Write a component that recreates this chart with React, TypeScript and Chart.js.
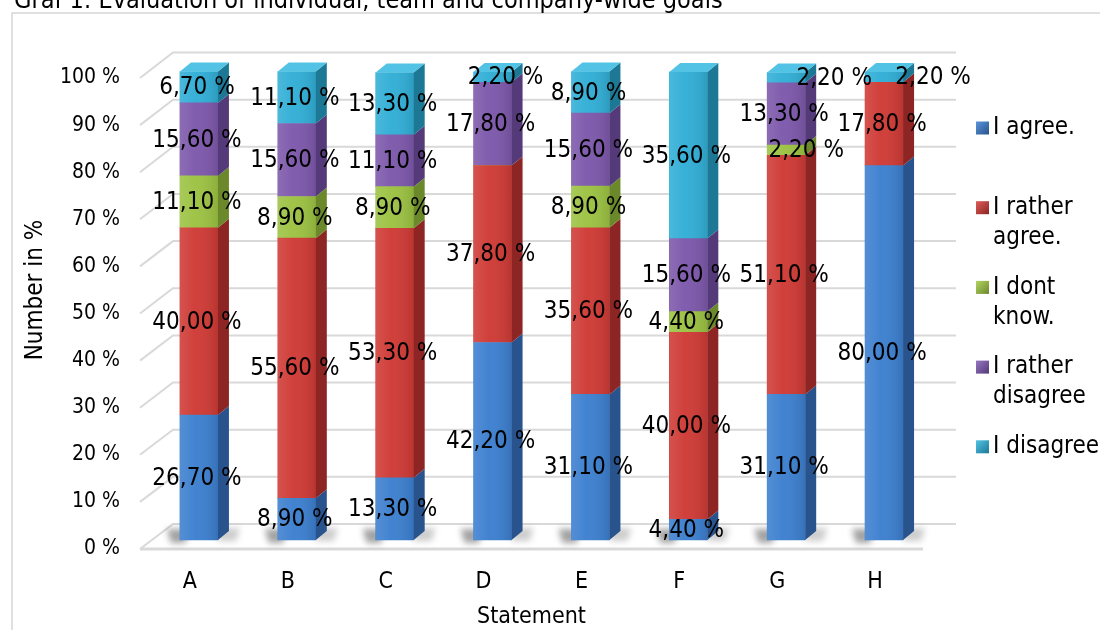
import React, { useEffect, useRef } from "react";
import { Chart, registerables } from "chart.js";

Chart.register(...registerables);

// ---- data ----
const categories = ["A", "B", "C", "D", "E", "F", "G", "H"];
const seriesNames = ["I agree.", "I rather agree.", "I dont know.", "I rather disagree", "I disagree"];
const agree = [26.7, 8.9, 13.3, 42.2, 31.1, 4.4, 31.1, 80.0];
const ratherAgree = [40.0, 55.6, 53.3, 37.8, 35.6, 40.0, 51.1, 17.8];
const dontKnow = [11.1, 8.9, 8.9, 0, 8.9, 4.4, 2.2, 0];
const ratherDisagree = [15.6, 15.6, 11.1, 17.8, 15.6, 15.6, 13.3, 0];
const disagree = [6.7, 11.1, 13.3, 2.2, 8.9, 35.6, 2.2, 2.2];
const yTicks = [0, 10, 20, 30, 40, 50, 60, 70, 80, 90, 100];

const TITLE = "Graf 1: Evaluation of individual, team and company-wide goals";
const X_TITLE = "Statement";
const Y_TITLE = "Number in %";

// ---- style ----
const FONT = '"DejaVu Sans Condensed", "DejaVu Sans", sans-serif';

// front / side / top face colours per series
const palette = [
  { front: "#3c7fcf", side: "#28538c", top: "#5a95db" },
  { front: "#cf3a35", side: "#8c2523", top: "#de5d58" },
  { front: "#9cc242", side: "#6b882b", top: "#b4d463" },
  { front: "#7d58ab", side: "#543a78", top: "#9676c2" },
  { front: "#31aed6", side: "#1d7896", top: "#52c3e4" },
];

// sideways nudges for crowded labels: [category, series, dx]
const labelShift: [number, number, number][] = [
  [3, 4, 15],
  [6, 2, 22],
  [6, 4, 50],
  [7, 4, 51],
];

const BAR_DX = 11; // bar depth, horizontal
const BAR_DY = 9; // bar depth, vertical
const WALL_DX = 33; // wall depth, horizontal

const fmt = (v: number) => v.toFixed(2).replace(".", ",") + " %";

function wrapWords(ctx: CanvasRenderingContext2D, text: string, maxW: number): string[] {
  const words = text.split(" ");
  const lines: string[] = [];
  let cur = "";
  for (const w of words) {
    const t = cur ? cur + " " + w : w;
    if (cur && ctx.measureText(t).width > maxW) {
      lines.push(cur);
      cur = w;
    } else cur = t;
  }
  if (cur) lines.push(cur);
  return lines;
}

const scenePlugin = {
  id: "scene3d",
  beforeDraw(chart: any) {
    const { ctx, width, height } = chart;
    ctx.save();
    ctx.fillStyle = "#ffffff";
    ctx.fillRect(0, 0, width, height);
    ctx.strokeStyle = "#d6d6d6";
    ctx.lineWidth = 1.5;
    ctx.strokeRect(12, 13, width + 20, height + 20);
    ctx.fillStyle = "#000";
    ctx.font = `25px ${FONT}`;
    ctx.textAlign = "left";
    ctx.textBaseline = "alphabetic";
    ctx.fillText(TITLE, 14, 8);
    ctx.restore();
  },
  beforeDatasetsDraw(chart: any) {
    const { ctx, chartArea } = chart;
    const ys = chart.scales.y;
    const front = (v: number) => ys.getPixelForValue(v) + 9 - 0.03 * v;
    const back = (v: number) => ys.getPixelForValue(v) - 16 - 0.035 * v;
    const fl = chartArea.left - 10;
    const fr = chartArea.right - 10;
    const bl = fl + WALL_DX;
    const br = fr + WALL_DX;
    ctx.save();
    ctx.strokeStyle = "#d9d9d9";
    ctx.lineWidth = 2;
    for (const v of yTicks) {
      ctx.beginPath();
      ctx.moveTo(fl, front(v));
      ctx.lineTo(bl, back(v));
      ctx.lineTo(br, back(v));
      ctx.stroke();
    }
    ctx.lineWidth = 3;
    ctx.beginPath();
    ctx.moveTo(fl, front(0));
    ctx.lineTo(fr, front(0));
    ctx.stroke();

    // soft shadows at the foot of each bar
    const meta = chart.getDatasetMeta(0);
    meta.data.forEach((el: any) => {
      const { x, base, width } = el.getProps(["x", "base", "width"], true);
      const xl = x - width / 2;
      const xr = x + width / 2;
      ctx.save();
      ctx.filter = "blur(3px)";
      ctx.fillStyle = "rgba(70,70,70,0.5)";
      ctx.beginPath();
      ctx.moveTo(xl - 13, base - 11);
      ctx.lineTo(xl + 6, base - 11);
      ctx.lineTo(xl + 6, base + 3);
      ctx.lineTo(xl - 9, base + 3);
      ctx.closePath();
      ctx.fill();
      ctx.fillStyle = "rgba(90,90,90,0.3)";
      ctx.beginPath();
      ctx.moveTo(xr, base - 12);
      ctx.lineTo(xr + 22, base - 12);
      ctx.lineTo(xr + 18, base + 1);
      ctx.lineTo(xr, base + 1);
      ctx.closePath();
      ctx.fill();
      ctx.restore();
    });
    ctx.restore();
  },
  afterDatasetsDraw(chart: any) {
    const { ctx } = chart;
    const datasets = chart.data.datasets;
    ctx.save();
    categories.forEach((_, i) => {
      let topIdx = -1;
      datasets.forEach((ds: any, d: number) => {
        if (ds.data[i] > 0) topIdx = d;
      });
      datasets.forEach((ds: any, d: number) => {
        const v = ds.data[i];
        if (!(v > 0)) return;
        const el = chart.getDatasetMeta(d).data[i];
        const { x, y, base, width } = el.getProps(["x", "y", "base", "width"], true);
        const xl = x - width / 2;
        const xr = x + width / 2;
        // front shading
        const g = ctx.createLinearGradient(xl, 0, xr, 0);
        g.addColorStop(0, "rgba(255,255,255,0.12)");
        g.addColorStop(0.4, "rgba(255,255,255,0.03)");
        g.addColorStop(1, "rgba(0,0,0,0.10)");
        ctx.fillStyle = g;
        ctx.fillRect(xl, y, width, base - y);
        // side face
        ctx.fillStyle = palette[d].side;
        ctx.beginPath();
        ctx.moveTo(xr, y);
        ctx.lineTo(xr + BAR_DX, y - BAR_DY);
        ctx.lineTo(xr + BAR_DX, base - BAR_DY);
        ctx.lineTo(xr, base);
        ctx.closePath();
        ctx.fill();
        if (d === topIdx) {
          ctx.fillStyle = palette[d].top;
          ctx.beginPath();
          ctx.moveTo(xl, y);
          ctx.lineTo(xl + BAR_DX, y - BAR_DY);
          ctx.lineTo(xr + BAR_DX, y - BAR_DY);
          ctx.lineTo(xr, y);
          ctx.closePath();
          ctx.fill();
        }
      });
    });

    // value labels
    ctx.fillStyle = "#000";
    ctx.font = `24px ${FONT}`;
    ctx.textAlign = "center";
    ctx.textBaseline = "middle";
    datasets.forEach((ds: any, d: number) => {
      const meta = chart.getDatasetMeta(d);
      ds.data.forEach((v: number, i: number) => {
        if (!(v > 0)) return;
        const { x, y, base } = meta.data[i].getProps(["x", "y", "base"], true);
        const shift = labelShift.find((s) => s[0] === i && s[1] === d);
        const dx = shift ? shift[2] : 0;
        ctx.fillText(fmt(v), x - 2 + dx, (y + base) / 2 + 1);
      });
    });
    ctx.restore();
  },
  afterDraw(chart: any) {
    const { ctx, chartArea } = chart;
    const ys = chart.scales.y;
    const xs = chart.scales.x;
    ctx.save();
    ctx.fillStyle = "#000";
    ctx.textBaseline = "middle";

    // value axis
    ctx.font = `21px ${FONT}`;
    ctx.textAlign = "right";
    for (const v of yTicks) {
      ctx.fillText(`${v} %`, 120, ys.getPixelForValue(v) + 9 - 0.03 * v);
    }
    // category axis
    ctx.font = `23px ${FONT}`;
    ctx.textAlign = "center";
    categories.forEach((c, i) => {
      ctx.fillText(c, xs.getPixelForValue(i) - 9, chartArea.bottom + 42);
    });
    ctx.fillText(X_TITLE, (chartArea.left + chartArea.right) / 2 - 10, chartArea.bottom + 77);

    ctx.save();
    ctx.font = `24px ${FONT}`;
    ctx.translate(36, 290);
    ctx.rotate(-Math.PI / 2);
    ctx.fillText(Y_TITLE, 0, 0);
    ctx.restore();

    // legend
    ctx.font = `24px ${FONT}`;
    ctx.textAlign = "left";
    chart.data.datasets.forEach((ds: any, d: number) => {
      const y0 = 128 + d * 79.7;
      const sq = 13;
      const sx = 976;
      const g = ctx.createLinearGradient(sx, y0 - sq / 2, sx + sq, y0 + sq / 2);
      g.addColorStop(0, palette[d].top);
      g.addColorStop(1, palette[d].side);
      ctx.fillStyle = g;
      ctx.fillRect(sx, y0 - sq / 2, sq, sq);
      ctx.fillStyle = "#000";
      const lines = wrapWords(ctx, ds.label, 112);
      lines.forEach((ln, k) => ctx.fillText(ln, 993, y0 + k * 30));
    });
    ctx.restore();
  },
};

export default function App() {
  const ref = useRef<HTMLCanvasElement | null>(null);

  useEffect(() => {
    if (!ref.current) return;
    const series = [agree, ratherAgree, dontKnow, ratherDisagree, disagree];
    const chart = new Chart(ref.current, {
      type: "bar",
      data: {
        labels: categories,
        datasets: series.map((data, d) => ({
          label: seriesNames[d],
          data,
          backgroundColor: palette[d].front,
          borderWidth: 0,
          barThickness: 38,
          clip: false as any,
        })),
      },
      options: {
        responsive: false,
        animation: false,
        devicePixelRatio: 1,
        layout: { padding: { left: 150, right: 167, top: 72, bottom: 90 } },
        plugins: {
          legend: { display: false },
          title: { display: false },
          tooltip: { enabled: false },
        },
        scales: {
          x: { stacked: true, display: false },
          y: { stacked: true, display: false, min: 0, max: 100 },
        },
      },
      plugins: [scenePlugin],
    });
    return () => chart.destroy();
  }, []);

  return (
    <div style={{ position: "absolute", left: 0, top: 0, width: 1100, height: 630 }}>
      <canvas ref={ref} width={1100} height={630} style={{ display: "block" }} />
    </div>
  );
}
